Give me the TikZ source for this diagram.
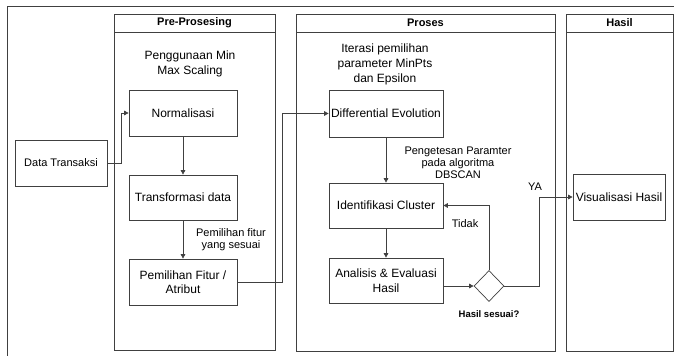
\documentclass[tikz,border=0pt]{standalone}
\usepackage{fontspec}
\setmainfont{Liberation Sans}
\usetikzlibrary{arrows.meta,shapes.geometric}
\begin{document}
\begin{tikzpicture}[x=1pt,y=-1pt,
  ln/.style={draw=black!75, line width=0.7pt},
  box/.style={ln, minimum width=108pt, minimum height=46pt, inner sep=1pt, align=center, font=\fontsize{12}{14.5}\selectfont},
  txt/.style={align=center, inner sep=0pt, font=\fontsize{12}{15}\selectfont},
  small/.style={align=center, inner sep=0pt, font=\fontsize{11}{12}\selectfont},
  hdr/.style={inner sep=0pt, font=\fontsize{11}{13}\selectfont\bfseries},
  arr/.style={ln, -{Triangle[length=4.5pt,width=4.5pt]}},
  cn/.style={ln}]
\useasboundingbox (0,0) rectangle (674,356);
% outer frame
\draw[ln] (674,6) -- (7,6) -- (7,356);
% lanes
\draw[ln] (114,14) rectangle (275,350);
\draw[ln] (114,32) -- (275,32);
\draw[ln] (296,14) rectangle (555,351);
\draw[ln] (296,32) -- (555,32);
\draw[ln] (566,14) rectangle (673,351);
\draw[ln] (566,32) -- (673,32);
\node[hdr] (h1) at (194.5,23) {Pre-Prosesing};
\node[hdr] (h2) at (425.5,23) {Proses};
\node[hdr] (h3) at (619.5,23) {Hasil};
% nodes
\node[box, minimum width=92pt, minimum height=46pt, font=\fontsize{11}{13}\selectfont] (data) at (61,163) {Data Transaksi};
\node[box] (norm) at (183,113) {Normalisasi};
\node[box, minimum height=45pt] (tf) at (183,197.5) {Transformasi data};
\node[box] (pf) at (183,282) {Pemilihan Fitur /\\Atribut};
\node[box, minimum width=114pt, minimum height=47pt] (de) at (386,113.5) {Differential Evolution};
\node[box, minimum width=114pt, minimum height=45pt] (ic) at (386,205.5) {Identifikasi Cluster};
\node[box, minimum width=114pt, minimum height=45pt] (an) at (386,280.5) {Analisis \& Evaluasi\\Hasil};
\node[ln, diamond, minimum width=30pt, minimum height=31pt, inner sep=0pt] (dec) at (489,286) {};
\node[box, minimum width=92pt, minimum height=46pt] (vis) at (619,197) {Visualisasi Hasil};
% labels
\node[txt] (l1) at (190,64) {Penggunaan Min\\Max Scaling};
\node[small] (l2) at (231,240) {Pemilihan fitur\\yang sesuai};
\node[txt] (l3) at (385,64) {Iterasi pemilihan\\parameter MinPts\\dan Epsilon};
\node[small] (l4) at (458,163) {Pengetesan Paramter\\pada algoritma\\DBSCAN};
\node[small] (l5) at (465,224) {Tidak};
\node[small] (l6) at (535,187) {YA};
\node[inner sep=0pt, font=\fontsize{9.5}{11}\selectfont\bfseries] (l7) at (489,314) {Hasil sesuai?};
% connectors
\draw[arr] (data.east) -| ([xshift=-7pt]norm.west) -- (norm.west);
\draw[arr] (norm) -- (tf);
\draw[arr] (tf) -- (pf);
\draw[arr] (pf.east) -| ([xshift=-46pt]de.west) -- (de.west);
\draw[arr] (de) -- (ic);
\draw[arr] (ic) -- (an);
\draw[arr] (an.east |- dec.west) -- (dec.west);
\draw[arr] (dec.north) |- (ic.east);
\draw[arr] (dec.east) -- ++(35,0) |- (vis.west);
\end{tikzpicture}
\end{document}
